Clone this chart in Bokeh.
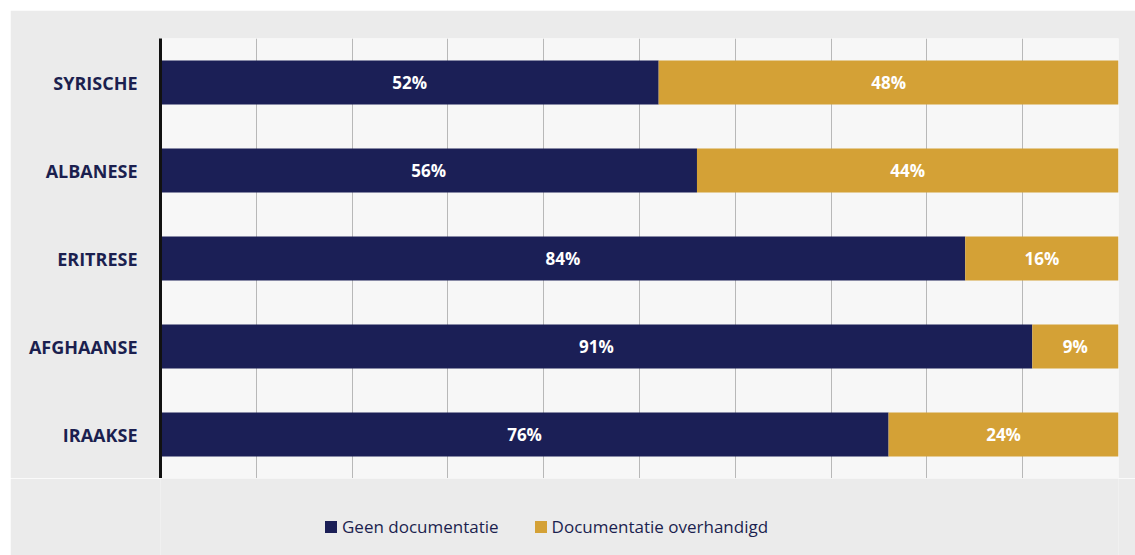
from bokeh.plotting import figure
from bokeh.layouts import column
from bokeh.models import ColumnDataSource, FactorRange, Range1d, Grid, FixedTicker, Legend, LegendItem
from bokeh.core.properties import value
from bokeh.embed import file_html
from bokeh.resources import INLINE

categories = ["SYRISCHE", "ALBANESE", "ERITRESE", "AFGHAANSE", "IRAAKSE"]
geen = [52, 56, 84, 91, 76]
overhandigd = [48, 44, 16, 9, 24]
series_names = ["Geen documentatie", "Documentatie overhandigd"]
x_ticks = [0, 10, 20, 30, 40, 50, 60, 70, 80, 90, 100]

NAVY = "#1b1f56"
GOLD = "#d4a136"
FONT = "Open Sans"
BORDER = "#ebebeb"

src = ColumnDataSource(dict(
    cat=categories,
    geen=geen,
    over=overhandigd,
    geen_mid=[g / 2 for g in geen],
    over_mid=[g + o / 2 for g, o in zip(geen, overhandigd)],
    geen_lbl=[f"{g}%" for g in geen],
    over_lbl=[f"{o}%" for o in overhandigd],
))

p = figure(width=1125, height=468, output_backend="svg", toolbar_location=None,
           y_range=FactorRange(factors=categories[::-1], range_padding=0),
           x_range=Range1d(0, 100), x_axis_location=None,
           min_border_left=150, min_border_right=17, min_border_top=28, min_border_bottom=0)
p.margin = (10, 0, 0, 10)

p.background_fill_color = "#f7f7f7"
p.border_fill_color = BORDER
p.outline_line_color = None
p.xgrid.visible = False
p.ygrid.visible = False

grid = Grid(dimension=0, ticker=FixedTicker(ticks=x_ticks), grid_line_color="#b8b8b8", grid_line_width=1)
p.add_layout(grid)

r = p.hbar_stack(["geen", "over"], y="cat", height=0.5, color=[NAVY, GOLD], line_color=None, source=src)

p.text(x="geen_mid", y="cat", text="geen_lbl", source=src, text_align="center", text_baseline="middle",
       text_color="white", text_font=value(FONT), text_font_size="17px", text_font_style="bold")
p.text(x="over_mid", y="cat", text="over_lbl", source=src, text_align="center", text_baseline="middle",
       text_color="white", text_font=value(FONT), text_font_size="17px", text_font_style="bold")

ax = p.yaxis[0]
ax.axis_line_color = "#111111"
ax.axis_line_width = 3
ax.major_tick_line_color = None
ax.minor_tick_line_color = None
ax.major_label_standoff = 17
ax.major_label_text_font = FONT
ax.major_label_text_font_size = "18px"
ax.major_label_text_font_style = "bold"
ax.major_label_text_color = "#1b1f4f"

# legend strip below the chart
p2 = figure(width=1125, height=77, output_backend="svg", toolbar_location=None,
            y_range=FactorRange(factors=categories[::-1]), x_range=Range1d(0, 100),
            x_axis_location=None, y_axis_location=None,
            min_border_left=150, min_border_right=17, min_border_top=0, min_border_bottom=0)
p2.margin = (0, 0, 0, 10)
p2.background_fill_color = BORDER
p2.border_fill_color = BORDER
p2.outline_line_color = None
p2.xgrid.visible = False
p2.ygrid.visible = False
r2 = p2.hbar_stack(["geen", "over"], y="cat", height=0.5, color=[NAVY, GOLD], line_color=None, source=src)
for rr in r2:
    rr.visible = False

legend = Legend(items=[LegendItem(label=series_names[0], renderers=[r2[0]]),
                       LegendItem(label=series_names[1], renderers=[r2[1]])],
                orientation="horizontal", location=(163, 17), padding=0, margin=0,
                spacing=34, label_standoff=4, glyph_width=15, glyph_height=15,
                label_text_font=FONT, label_text_font_size="17px", label_text_color="#1b1f4f",
                border_line_color=None, background_fill_alpha=0, click_policy="none")
p2.add_layout(legend)

layout = column(p, p2, spacing=0)
open("out.html", "w").write(file_html(layout, INLINE))
